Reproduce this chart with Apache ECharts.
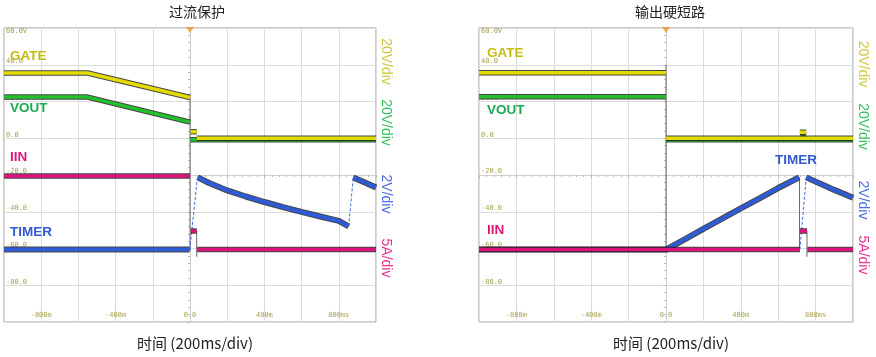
<!DOCTYPE html>
<html><head><meta charset="utf-8">
<script src="https://cdn.jsdelivr.net/npm/echarts@6/dist/echarts.min.js"></script>
<style>html,body{margin:0;padding:0;background:#fff;}#c{width:876px;height:357px;}</style>
</head><body><div id="c"></div>
<script>
// ---- text ----
const panelTitles = ['过流保护', '输出硬短路'];
const xAxisTitle = '时间 (200ms/div)';
const xTickLabels = { '-800': '-800m', '-400': '-400m', '0': '0.0', '400': '400m', '800': '800ms' };
const yTickLabels = { '60': '60.0V', '40': '40.0', '20': '20.0', '0': '0.0', '-20': '-20.0', '-40': '-40.0', '-60': '-60.0', '-80': '-80.0' };
const channelNames = ['GATE', 'VOUT', 'IIN', 'TIMER'];
const channelScales = ['20V/div', '20V/div', '2V/div', '5A/div'];

// ---- data: [time ms, screen value]; null = break in trace ----
// panel A: 过流保护
const gateA  = [[-1000, 35.5], [-550, 35.5], [0, 22.2], null, [4, 3.5], [36, 3.5], null, [36, 0], [1000, 0]];
const voutA  = [[-1000, 22.4], [-550, 22.4], [0, 8.8], null, [2, -0.8], [1000, -0.8]];
const iinA   = [[-1000, -20.5], [0, -20.5], null, [4, -50.5], [36, -50.5], null, [39, -60.6], [1000, -60.6]];
const timerA = [[-1000, -60.6], [-3, -60.6], null, [42, -21.3], [100, -24.2], [200, -28.4], [300, -31.7], [400, -34.7], [500, -37.5], [600, -40.1], [700, -42.6], [800, -45.0], [853, -47.9], null, [878, -21.3], [940, -24.1], [1000, -26.8]];
const timerJumpA = [[-1, -60.6], [40, -21.3], null, [853, -47.9], [878, -21.3]];
const edgesA = [[0, 22.2], [0, -61.5], null, [36, -50.5], [36, -64.5]];

// panel B: 输出硬短路
const gateB  = [[-1000, 35.6], [0, 35.6], null, [0, 0], [1000, 0], null, [716, 3.3], [750, 3.3]];
const voutB  = [[-1000, 22.6], [0, 22.6], null, [0, -0.8], [1000, -0.8], null, [718, 0.5], [748, 0.5]];
const iinB   = [[-1000, -60.6], [716, -60.6], null, [716, -50.5], [754, -50.5], null, [757, -60.6], [1000, -60.6]];
const timerB = [[-1000, -60.6], [0, -60.6], [100, -55.0], [200, -49.3], [300, -43.8], [400, -38.2], [500, -32.7], [600, -27.1], [712, -21.3], null, [750, -21.3], [800, -23.6], [850, -25.9], [900, -28.1], [950, -30.2], [1000, -32.4]];
const timerJumpB = [[716, -60.6], [750, -21.3]];
const edgesB = [[0, 40], [0, -61.5], null, [714, -21.3], [714, -61], null, [754, -50.5], [754, -64.5]];

const triggerMark = [[0, 60]];

// ---- styling ----
const C = { gate: '#e4dc00', vout: '#22c02a', iin: '#dc137c', timer: '#2f5bd6' };
const LBL = { gate: '#c4bc12', vout: '#19aa52', iin: '#e0157a', timer: '#3358d0' };
const SIDE = ['#cfc93a', '#35c060', '#4a6ae0', '#e8308f'];

function pts(arr) { return arr.map(p => p === null ? ['-', '-'] : p); }

function trace(name, data, color, width, gi, z) {
  const base = { type: 'line', xAxisIndex: gi * 2, yAxisIndex: gi * 2, showSymbol: false, symbol: 'none',
    connectNulls: false, animation: false, silent: true, data: pts(data) };
  return [
    Object.assign({}, base, { name: name + '_o', z: z, lineStyle: { color: 'rgba(25,25,25,0.8)', width: width + 2 } }),
    Object.assign({}, base, { name: name, z: z + 0.5, lineStyle: { color: color, width: width } })
  ];
}
function thin(name, data, color, type, gi, z) {
  return { type: 'line', name: name, xAxisIndex: gi * 2, yAxisIndex: gi * 2, showSymbol: false, symbol: 'none',
    connectNulls: false, animation: false, silent: true, z: z, data: pts(data),
    lineStyle: { color: color, width: 1, type: type } };
}

const grids = [
  { left: 4, top: 28, width: 372, height: 294 },
  { left: 479, top: 28, width: 374, height: 294 }
];
const tickFont = { fontSize: 7, color: '#a6a050', fontFamily: 'DejaVu Sans Mono' };
const xAxes = [], yAxes = [];
grids.forEach((g, i) => {
  xAxes.push({
    type: 'value', gridIndex: i, min: -1000, max: 1000, interval: 200, position: 'bottom',
    axisLine: { show: false, onZero: false }, axisTick: { show: false },
    splitLine: { show: true, lineStyle: { color: '#dcdcdc', width: 1 } },
    axisLabel: Object.assign({ inside: true, margin: 3, formatter: v => xTickLabels[String(v)] || '' }, tickFont),
    name: xAxisTitle, nameLocation: 'middle', nameGap: 14,
    nameTextStyle: { fontSize: 15, color: '#222', fontFamily: '"Noto Sans CJK SC", "Noto Sans", sans-serif', padding: [0, 0, 0, 10] }
  });
  xAxes.push({
    type: 'value', gridIndex: i, min: -1000, max: 1000, interval: 200,
    axisLine: { show: true, onZero: true, onZeroAxisIndex: i * 2 + 1, lineStyle: { color: '#cfcfcf', width: 1 } },
    axisTick: { show: true, length: 3, inside: true, lineStyle: { color: '#bbb' } },
    minorTick: { show: true, splitNumber: 5, length: 2, lineStyle: { color: '#bbb' } },
    axisLabel: { show: false }, splitLine: { show: false }
  });
  yAxes.push({
    type: 'value', gridIndex: i, min: -100, max: 60, interval: 20, position: 'left',
    axisLine: { show: false, onZero: false }, axisTick: { show: false },
    splitLine: { show: true, lineStyle: { color: '#dcdcdc', width: 1 } },
    axisLabel: Object.assign({ inside: true, margin: 2, verticalAlign: 'bottom', verticalAlignMaxLabel: 'top',
      formatter: v => yTickLabels[String(v)] || '' }, tickFont)
  });
  yAxes.push({
    type: 'value', gridIndex: i, min: -80, max: 80, interval: 20,
    axisLine: { show: true, onZero: true, onZeroAxisIndex: i * 2, lineStyle: { color: '#cfcfcf', width: 1 } },
    axisTick: { show: true, length: 3, inside: true, lineStyle: { color: '#bbb' } },
    minorTick: { show: true, splitNumber: 5, length: 2, lineStyle: { color: '#bbb' } },
    axisLabel: { show: false }, splitLine: { show: false }
  });
});

const panels = [
  { gate: gateA, vout: voutA, iin: iinA, timer: timerA, jump: timerJumpA, edges: edgesA },
  { gate: gateB, vout: voutB, iin: iinB, timer: timerB, jump: timerJumpB, edges: edgesB }
];
let series = [];
panels.forEach((p, i) => {
  series.push(thin('edges' + i, p.edges, '#6a6a6a', 'solid', i, 3));
  series = series.concat(trace('VOUT' + i, p.vout, C.vout, 3.5, i, 4));
  series = series.concat(trace('GATE' + i, p.gate, C.gate, 3.5, i, 5));
  series = series.concat(trace('TIMER' + i, p.timer, C.timer, 4, i, 6));
  series.push(thin('jump' + i, p.jump, '#4169e1', [3, 2], i, 6));
  series = series.concat(trace('IIN' + i, p.iin, C.iin, 3.5, i, 7));
  series.push({ type: 'scatter', xAxisIndex: i * 2, yAxisIndex: i * 2, data: triggerMark, symbol: 'triangle',
    symbolRotate: 180, symbolSize: [8, 6], symbolOffset: [0, 2], itemStyle: { color: '#f0962a' },
    clip: false, silent: true, animation: false, z: 8 });
});

// text labels
const chanPos = [
  [[10, 56], [10, 108], [10, 157], [10, 232]],
  [[487, 53], [487, 110], [487, 230], [775, 160.5]]
];
const chanColors = [LBL.gate, LBL.vout, LBL.iin, LBL.timer];
const sidePos = [
  [[386, 61.5], [386, 122.5], [386, 194], [386, 258]],
  [[863, 64], [863, 126.5], [863, 200], [863, 255]]
];
const graphics = [];
[0, 1].forEach(i => {
  channelNames.forEach((n, k) => {
    graphics.push({ type: 'text', x: chanPos[i][k][0], y: chanPos[i][k][1], silent: true, z: 20,
      style: { text: n, fill: chanColors[k], font: 'bold 13.5px "Liberation Sans", Arial, sans-serif', align: 'left', verticalAlign: 'middle' } });
  });
  channelScales.forEach((s, k) => {
    graphics.push({ type: 'text', x: sidePos[i][k][0], y: sidePos[i][k][1], rotation: -Math.PI / 2, silent: true, z: 20,
      style: { text: s, fill: SIDE[k], font: '14px "Liberation Sans", Arial, sans-serif', align: 'center', verticalAlign: 'middle' } });
  });
});

const chart = echarts.init(document.getElementById('c'), null, { renderer: 'canvas' });
chart.setOption({
  backgroundColor: '#ffffff',
  animation: false,
  title: [
    { text: panelTitles[0], left: 192, top: 0, textAlign: 'center', textStyle: { fontSize: 14, fontWeight: 'normal', color: '#222', fontFamily: '"Noto Sans CJK SC", sans-serif' } },
    { text: panelTitles[1], left: 665, top: 0, textAlign: 'center', textStyle: { fontSize: 14, fontWeight: 'normal', color: '#222', fontFamily: '"Noto Sans CJK SC", sans-serif' } }
  ],
  grid: grids.map(g => Object.assign({ show: true, borderColor: '#999', borderWidth: 1, backgroundColor: '#fff', containLabel: false, outerBoundsMode: 'none' }, g)),
  xAxis: xAxes,
  yAxis: yAxes,
  series: series,
  graphic: graphics
});
</script>
</body></html>
